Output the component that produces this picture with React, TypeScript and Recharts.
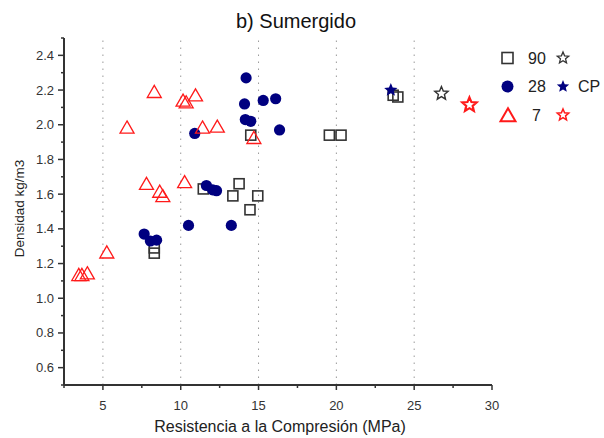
import React from "react";
import { ScatterChart, Scatter, XAxis, YAxis, ReferenceLine, Legend } from "recharts";

type Pt = { x: number; y: number };

// density vs compressive strength, by curing age (days)
const dias90: Pt[] = [
  { x: 8.3, y: 1.26 }, { x: 8.3, y: 1.29 }, { x: 11.45, y: 1.63 }, { x: 13.35, y: 1.59 },
  { x: 13.75, y: 1.66 }, { x: 14.45, y: 1.51 }, { x: 14.95, y: 1.59 }, { x: 14.5, y: 1.94 },
  { x: 19.55, y: 1.94 }, { x: 20.3, y: 1.94 }, { x: 23.65, y: 2.17 }, { x: 23.95, y: 2.16 },
];
const dias28: Pt[] = [
  { x: 7.65, y: 1.37 }, { x: 8.05, y: 1.33 }, { x: 8.45, y: 1.335 }, { x: 10.5, y: 1.42 },
  { x: 10.9, y: 1.95 }, { x: 11.65, y: 1.65 }, { x: 12.05, y: 1.625 }, { x: 12.3, y: 1.62 },
  { x: 13.25, y: 1.42 }, { x: 14.1, y: 2.12 }, { x: 14.15, y: 2.03 }, { x: 14.2, y: 2.27 },
  { x: 14.5, y: 2.02 }, { x: 15.3, y: 2.14 }, { x: 16.1, y: 2.15 }, { x: 16.35, y: 1.97 },
];
const dias7: Pt[] = [
  { x: 3.45, y: 1.13 }, { x: 3.65, y: 1.13 }, { x: 4.0, y: 1.14 }, { x: 5.25, y: 1.26 },
  { x: 6.55, y: 1.98 }, { x: 7.8, y: 1.655 }, { x: 8.3, y: 2.185 }, { x: 8.65, y: 1.61 },
  { x: 8.85, y: 1.585 }, { x: 10.15, y: 2.135 }, { x: 10.25, y: 1.665 }, { x: 10.35, y: 2.125 },
  { x: 10.95, y: 2.165 }, { x: 11.4, y: 1.98 }, { x: 12.35, y: 1.985 }, { x: 14.7, y: 1.92 },
];
// control specimens (CP)
const cp90: Pt[] = [{ x: 26.75, y: 2.18 }];
const cp28: Pt[] = [{ x: 23.5, y: 2.2 }];
const cp7: Pt[] = [{ x: 28.55, y: 2.115 }];

const xTicks = [2.5, 5, 7.5, 10, 12.5, 15, 17.5, 20, 22.5, 25, 27.5, 30];
const xLabels = [5, 10, 15, 20, 25, 30];
const yTicks = [0.5, 0.6, 0.7, 0.8, 0.9, 1.0, 1.1, 1.2, 1.3, 1.4, 1.5, 1.6, 1.7, 1.8, 1.9, 2.0, 2.1, 2.2, 2.3, 2.4, 2.5];
const yLabels = [0.6, 0.8, 1.0, 1.2, 1.4, 1.6, 1.8, 2.0, 2.2, 2.4];
const gridX = [5, 10, 15, 20, 25];

const NAVY = "#000080";
const RED = "#ff1a1a";
const GRAY = "#333333";
const AXIS = "#333333";

const has = (list: number[], v: number) => list.some((t) => Math.abs(t - v) < 1e-6);

const starPath = (cx: number, cy: number, R: number) => {
  const r = R * 0.45;
  let d = "";
  for (let i = 0; i < 10; i++) {
    const a = (-90 + i * 36) * (Math.PI / 180);
    const rad = i % 2 === 0 ? R : r;
    d += (i === 0 ? "M" : "L") + (cx + rad * Math.cos(a)).toFixed(2) + "," + (cy + rad * Math.sin(a)).toFixed(2);
  }
  return d + "Z";
};

const triPath = (cx: number, cy: number, w: number) => {
  const h = w * 0.866;
  return `M${cx},${cy - h * 0.6}L${cx + w / 2},${cy + h * 0.4}L${cx - w / 2},${cy + h * 0.4}Z`;
};

const Square = ({ cx, cy }: any) => (
  <rect x={cx - 5} y={cy - 5} width={10} height={10} fill="none" stroke={GRAY} strokeWidth={1.6} />
);
const Dot = ({ cx, cy }: any) => <circle cx={cx} cy={cy} r={5.6} fill={NAVY} />;
const Tri = ({ cx, cy }: any) => (
  <path d={triPath(cx, cy, 14)} fill="none" stroke={RED} strokeWidth={1.3} strokeLinejoin="miter" />
);
const StarGray = ({ cx, cy }: any) => (
  <path d={starPath(cx, cy, 7)} fill="none" stroke={GRAY} strokeWidth={1.4} />
);
const StarNavy = ({ cx, cy }: any) => <path d={starPath(cx, cy, 7)} fill={NAVY} />;
const StarRed = ({ cx, cy }: any) => (
  <path d={starPath(cx, cy, 7.5)} fill="none" stroke={RED} strokeWidth={2.2} />
);

const XTick = (props: any) => {
  const { x, y, payload } = props;
  const major = has(xLabels, payload.value);
  return (
    <g>
      <line x1={x} x2={x} y1={y} y2={y + (major ? 5 : 3)} stroke={AXIS} strokeWidth={1.5} />
      {major && (
        <text x={x} y={y + 25} textAnchor="middle" fill="#333" fontSize={13}>
          {payload.value}
        </text>
      )}
    </g>
  );
};

const YTick = (props: any) => {
  const { x, y, payload } = props;
  const major = has(yLabels, payload.value);
  return (
    <g>
      <line x1={x - (major ? 6 : 3)} x2={x} y1={y} y2={y} stroke={AXIS} strokeWidth={1.5} />
      {major && (
        <text x={x - 10} y={y + 4.5} textAnchor="end" fill="#333" fontSize={13}>
          {Number(payload.value).toFixed(1)}
        </text>
      )}
    </g>
  );
};

const YLabel = ({ viewBox }: any) => {
  const cy = viewBox.y + viewBox.height / 2 - 3;
  return (
    <text x={19} y={cy} transform={`rotate(-90, 19, ${cy})`} textAnchor="middle" dominantBaseline="central" fill="#222" fontSize={13.5}>
      Densidad kg/m3
    </text>
  );
};

const XLabel = ({ viewBox }: any) => (
  <text x={viewBox.x + viewBox.width / 2 + 2} y={432} textAnchor="middle" fill="#222" fontSize={16}>
    Resistencia a la Compresión (MPa)
  </text>
);

const legendRows = [
  { age: "90", marker: "square", star: "gray", tag: "" },
  { age: "28", marker: "dot", star: "navy", tag: "CP" },
  { age: "7", marker: "tri", star: "red", tag: "" },
];

const LegendBox = () => (
  <svg width={109} height={95} style={{ display: "block", overflow: "visible" }}>
    {legendRows.map((row, i) => {
      const cy = 18 + i * 28.5;
      return (
        <g key={row.age}>
          {row.marker === "square" && <rect x={7} y={cy - 5.5} width={11} height={11} fill="none" stroke={GRAY} strokeWidth={1.6} />}
          {row.marker === "dot" && <circle cx={12.5} cy={cy} r={6} fill={NAVY} />}
          {row.marker === "tri" && <path d={triPath(13, cy + 1, 15)} fill="none" stroke={RED} strokeWidth={2} />}
          <text x={row.age.length > 1 ? 33 : 37} y={cy + 5.5} fill="#222" fontSize={16}>
            {row.age}
          </text>
          {row.star === "gray" && <path d={starPath(68, cy, 6)} fill="none" stroke={GRAY} strokeWidth={1.3} />}
          {row.star === "navy" && <path d={starPath(68, cy, 6.5)} fill={NAVY} />}
          {row.star === "red" && <path d={starPath(68, cy, 6)} fill="none" stroke={RED} strokeWidth={1.5} />}
          {row.tag && (
            <text x={83} y={cy + 5.5} fill="#222" fontSize={16}>
              {row.tag}
            </text>
          )}
        </g>
      );
    })}
  </svg>
);

export default function App() {
  return (
    <div
      style={{
        position: "absolute",
        left: 0,
        top: 0,
        width: 604,
        height: 438,
        background: "#fff",
        fontFamily: "'Liberation Sans', Arial, sans-serif",
      }}
    >
      <div
        style={{
          position: "absolute",
          left: 196,
          top: 11,
          width: 200,
          textAlign: "center",
          fontSize: 20,
          lineHeight: 1,
          color: "#111",
        }}
      >
        b) Sumergido
      </div>
      <ScatterChart width={604} height={438} margin={{ top: 38, right: 112, bottom: 0, left: 0 }}>
        <XAxis
          type="number"
          dataKey="x"
          domain={[2.5, 30]}
          ticks={xTicks}
          interval={0}
          allowDataOverflow
          height={53}
          tickSize={0}
          tickMargin={0}
          tickLine={false}
          tick={<XTick />}
          axisLine={{ stroke: AXIS, strokeWidth: 2 }}
          label={<XLabel />}
        />
        <YAxis
          type="number"
          dataKey="y"
          domain={[0.5, 2.5]}
          ticks={yTicks}
          interval={0}
          allowDataOverflow
          width={64}
          tickSize={0}
          tickMargin={0}
          tickLine={false}
          tick={<YTick />}
          axisLine={{ stroke: AXIS, strokeWidth: 2 }}
          label={<YLabel />}
        />
        {gridX.map((v) => (
          <ReferenceLine key={v} x={v} stroke="#9a9a9a" strokeWidth={1} strokeDasharray="1.5 5.5" />
        ))}
        <Scatter name="90" data={dias90} shape={<Square />} isAnimationActive={false} />
        <Scatter name="28" data={dias28} shape={<Dot />} isAnimationActive={false} />
        <Scatter name="7" data={dias7} shape={<Tri />} isAnimationActive={false} />
        <Scatter name="CP 90" data={cp90} shape={<StarGray />} isAnimationActive={false} />
        <Scatter name="CP 28" data={cp28} shape={<StarNavy />} isAnimationActive={false} />
        <Scatter name="CP 7" data={cp7} shape={<StarRed />} isAnimationActive={false} />
        <Legend
          layout="vertical"
          align="center"
          verticalAlign="middle"
          content={<LegendBox />}
          wrapperStyle={{ left: 495, top: 40, width: 109, height: 95 }}
        />
      </ScatterChart>
    </div>
  );
}
